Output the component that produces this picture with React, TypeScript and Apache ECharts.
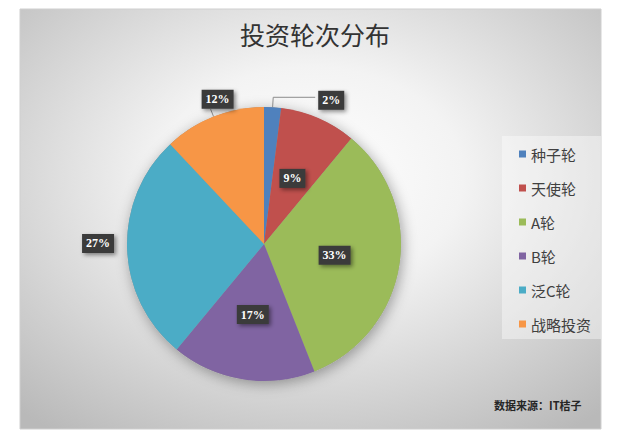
import React, { useEffect, useRef } from "react";
import * as echarts from "echarts";

const categories = ["种子轮", "天使轮", "A轮", "B轮", "泛C轮", "战略投资"];
const shares = [2, 9, 33, 17, 27, 12];
const colors = ["#4F81BD", "#C0504D", "#9BBB59", "#8064A2", "#4BACC6", "#F79646"];
const chartTitle = "投资轮次分布";
const sourceNote = "数据来源：IT桔子";

export default function App() {
  const ref = useRef<HTMLDivElement>(null);
  useEffect(() => {
    if (!ref.current) return;
    const chart = echarts.init(ref.current, undefined, { renderer: "svg" });

    const perItem: any[] = [
      {
        label: { position: "outside" },
        labelLine: { show: true, length: 10, length2: 42 },
      },
      { label: { position: "inside" }, labelLine: { show: false } },
      { label: { position: "inside" }, labelLine: { show: false } },
      { label: { position: "inside" }, labelLine: { show: false } },
      {
        label: { position: "outside" },
        labelLine: { show: false, length: 4, length2: 6 },
      },
      {
        label: { position: "outside" },
        labelLine: { show: true, length: 8, length2: 0 },
      },
    ];

    const labelNudge: Record<number, { dx: number; dy: number }> = {
      0: { dx: -2, dy: 3 },
      4: { dx: 2, dy: -5 },
      5: { dx: 28, dy: -10 },
    };

    const data = categories.map((name, i) => ({
      name,
      value: shares[i],
      itemStyle: { color: colors[i] },
      ...perItem[i],
    }));

    chart.setOption({
      animation: false,
      backgroundColor: "#ffffff",
      title: {
        text: chartTitle,
        left: 310,
        textAlign: "center",
        top: 16,
        textStyle: {
          fontSize: 25,
          fontWeight: "normal",
          color: "#333333",
          fontFamily: "Noto Sans CJK SC",
        },
      },
      legend: {
        data: categories,
        orient: "vertical",
        left: 514,
        top: 141,
        itemWidth: 7,
        itemHeight: 7,
        itemGap: 18,
        icon: "rect",
        textStyle: {
          fontSize: 15,
          lineHeight: 16,
          color: "#404040",
          fontFamily: "Noto Sans CJK SC",
        },
      },
      graphic: [
        {
          type: "rect",
          z: -10,
          shape: { x: 20, y: 9, width: 581, height: 420 },
          style: {
            fill: new echarts.graphic.RadialGradient(0.5, 0.4, 0.75, [
              { offset: 0, color: "#ffffff" },
              { offset: 0.35, color: "#f3f3f3" },
              { offset: 1, color: "#b9b9b9" },
            ]),
            stroke: "#cfcfcf",
            lineWidth: 1,
          },
        },
        {
          type: "rect",
          z: 1,
          shape: { x: 502, y: 136, width: 99, height: 203 },
          style: { fill: "rgba(255,255,255,0.4)" },
        },
        {
          type: "text",
          z: 5,
          x: 494,
          y: 399,
          style: {
            text: sourceNote,
            font: 'bold 11px "Noto Sans CJK SC"',
            fill: "#262626",
          },
        },
      ],
      series: [
        {
          type: "pie",
          name: "shadow",
          silent: true,
          center: [264, 244],
          radius: 137,
          z: 1,
          label: { show: false },
          labelLine: { show: false },
          itemStyle: {
            color: "#999999",
            shadowBlur: 14,
            shadowColor: "rgba(0,0,0,0.35)",
            shadowOffsetX: 2,
            shadowOffsetY: 3,
          },
          data: [{ name: "bg", value: 1 }],
        },
        {
          type: "pie",
          name: "投资轮次",
          center: [264, 244],
          radius: 137,
          startAngle: 90,
          clockwise: true,
          avoidLabelOverlap: false,
          z: 3,
          label: {
            show: true,
            formatter: "{c}%",
            color: "#ffffff",
            fontWeight: "bold",
            fontSize: 12,
            fontFamily: "Liberation Serif",
            backgroundColor: "#3b3b3b",
            padding: [4, 4, 3, 4],
            shadowColor: "rgba(0,0,0,0.45)",
            shadowBlur: 4,
            shadowOffsetX: 2,
            shadowOffsetY: 2,
          },
          labelLine: {
            lineStyle: { color: "#8c8c8c", width: 1 },
          },
          labelLayout: (params: any) => labelNudge[params.dataIndex] || {},
          emphasis: { disabled: true },
          data,
        },
      ],
    });
    return () => chart.dispose();
  }, []);
  return (
    <div
      ref={ref}
      style={{ position: "fixed", left: 0, top: 0, width: 618, height: 439 }}
    />
  );
}
